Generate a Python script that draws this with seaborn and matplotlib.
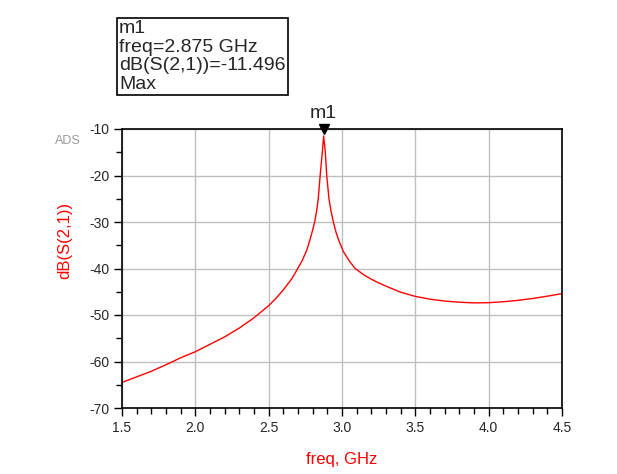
import numpy as np
import pandas as pd
import matplotlib.pyplot as plt
import seaborn as sns
from matplotlib.ticker import MultipleLocator

# values
freq_ghz = [1.5, 1.6, 1.7, 1.8, 1.9, 2.0, 2.1, 2.2, 2.3, 2.4, 2.5, 2.55, 2.6,
            2.66, 2.7, 2.73, 2.76, 2.78, 2.8, 2.815, 2.828, 2.838, 2.851, 2.866,
            2.875, 2.886, 2.896, 2.911, 2.925, 2.941, 2.96, 2.981, 3.01, 3.05,
            3.09, 3.15, 3.2, 3.25, 3.3, 3.4, 3.5, 3.6, 3.7, 3.8, 3.9, 4.0, 4.1,
            4.2, 4.3, 4.4, 4.5]
s21_db = [-64.5, -63.3, -62.1, -60.7, -59.2, -57.9, -56.3, -54.7, -52.8, -50.6,
          -48.0, -46.4, -44.6, -42.1, -39.9, -38.2, -36.0, -34.0, -31.7, -29.8,
          -27.4, -25.0, -20.0, -14.9, -11.5, -14.9, -20.0, -25.0, -27.6, -30.0,
          -32.3, -34.2, -36.4, -38.4, -40.0, -41.4, -42.3, -43.1, -43.8, -45.1,
          -46.0, -46.6, -47.0, -47.25, -47.4, -47.35, -47.15, -46.85, -46.45,
          -45.95, -45.4]
marker_freq = 2.875
marker_lines = ["m1", "freq=2.875 GHz", "dB(S(2,1))=-11.496", "Max"]

df = pd.DataFrame({"freq": freq_ghz, "db": s21_db})

sns.set_style("white")
plt.rcParams["font.family"] = ["Liberation Sans", "DejaVu Sans"]
plt.rcParams["axes.unicode_minus"] = False

fig = plt.figure(figsize=(6.17, 4.74), dpi=100)
ax = fig.add_axes([122 / 617, 1 - 408 / 474, 440 / 617, 279 / 474])

sns.lineplot(data=df, x="freq", y="db", color="red", linewidth=1.0, ax=ax)

ax.set_xlim(1.5, 4.5)
ax.set_ylim(-70, -10)
ax.xaxis.set_minor_locator(MultipleLocator(0.1))
ax.yaxis.set_major_locator(MultipleLocator(10))
ax.yaxis.set_minor_locator(MultipleLocator(5))
ax.set_xticks([1.5, 2.0, 2.5, 3.0, 3.5, 4.0, 4.5])
ax.set_xticklabels(["1.5", "2.0", "2.5", "3.0", "3.5", "4.0", "4.5"])
ax.grid(True, which="major", color="#bfbfbf", linewidth=1.0)
ax.tick_params(which="major", direction="out", length=6, width=1, color="black",
               labelsize=10, bottom=True, left=True, pad=3)
ax.tick_params(which="minor", direction="out", length=4.5, width=1, color="black",
               bottom=True, left=True)
for sp in ax.spines.values():
    sp.set_color("black")
    sp.set_linewidth(1.2)

ax.set_xlabel("freq, GHz", color="red", fontsize=12)
ax.set_ylabel("dB(S(2,1))", color="red", fontsize=12)
ax.xaxis.set_label_coords(0.5, -0.158)
ax.yaxis.set_label_coords(-0.112, 0.6)

# marker m1
ax.plot([marker_freq], [-10], marker="v", color="black", markersize=7,
        clip_on=False, zorder=5)
ax.annotate("m1", xy=(marker_freq, -10), xytext=(0, 5), textcoords="offset points",
            ha="center", va="bottom", fontsize=14)

fig.text(119 / 617, 1 - 20 / 474, "\n".join(marker_lines), ha="left", va="top",
         fontsize=14, linespacing=1.12,
         bbox=dict(boxstyle="square,pad=0.12", facecolor="white",
                   edgecolor="black", linewidth=1.2))

fig.text(68 / 617, 1 - 141 / 474, "ADS", ha="center", va="center", fontsize=9,
         color="#9a9a9a")

fig.savefig("out.png", dpi=100)
